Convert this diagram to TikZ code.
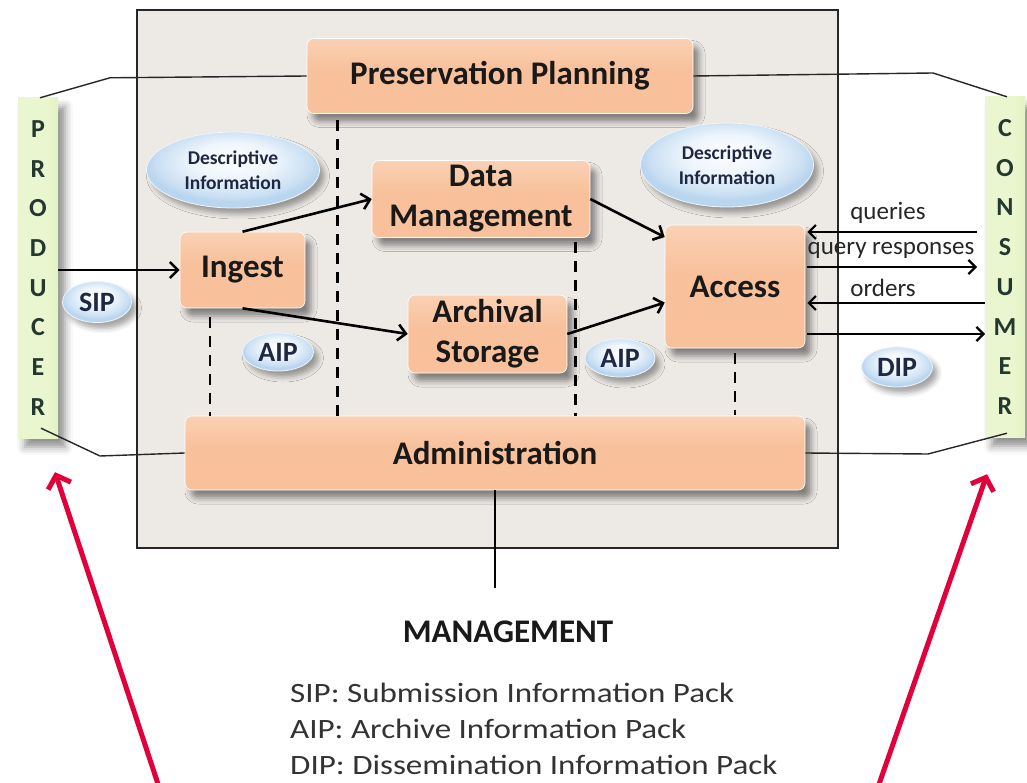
\documentclass[tikz,border=0pt]{standalone}
\usepackage{fontspec}
\setmainfont{Carlito}
\usetikzlibrary{arrows.meta,shadows,shadows.blur,calc,shapes.geometric}

\definecolor{panel}{HTML}{EDEAE6}
\definecolor{peachA}{HTML}{FBD9C0}
\definecolor{peachB}{HTML}{F8C19C}
\definecolor{peachE}{HTML}{FAEBB0}
\definecolor{bluelt}{HTML}{EEF5FC}
\definecolor{bluedk}{HTML}{B9D5EF}
\definecolor{greenA}{HTML}{EAF6CF}
\definecolor{greenB}{HTML}{D6EDAE}
\definecolor{navy}{HTML}{1E2842}
\definecolor{letter}{HTML}{243830}
\definecolor{redarrow}{HTML}{E2003A}

\pgfdeclareverticalshading{boxshade}{100bp}{%
  color(0bp)=(peachE); color(6bp)=(peachE); color(12bp)=(peachB);
  color(55bp)=(peachB); color(85bp)=(peachA); color(94bp)=(white); color(100bp)=(white)}
\pgfdeclareradialshading{ovalshade}{\pgfpoint{0bp}{8bp}}{%
  color(0bp)=(white); color(12bp)=(bluelt); color(22bp)=(bluedk!75); color(25bp)=(bluedk); color(50bp)=(bluedk)}
\pgfdeclarehorizontalshading{barshade}{100bp}{%
  color(0bp)=(bluelt); color(8bp)=(greenA); color(60bp)=(greenA); color(100bp)=(greenB)}

\tikzset{
  func/.style={rectangle, rounded corners=7pt, shading=boxshade, draw=white, line width=0.6pt,
    blur shadow={shadow xshift=6pt, shadow yshift=-8pt, shadow blur radius=6pt, shadow opacity=45},
    font=\bfseries\fontsize{33}{40}\selectfont, text=black!90, align=center, inner sep=2pt},
  oval/.style={ellipse, shading=ovalshade, draw=bluelt, line width=0.8pt,
    blur shadow={shadow xshift=5pt, shadow yshift=-6pt, shadow blur radius=5pt, shadow opacity=35},
    text=navy, font=\bfseries\fontsize{28}{30}\selectfont, align=center, inner sep=0pt},
  bar/.style={rectangle, shading=barshade, minimum width=40pt, minimum height=340pt,
    blur shadow={shadow xshift=7pt, shadow yshift=-9pt, shadow blur radius=8pt, shadow opacity=45},
    text=letter, font=\bfseries\fontsize{26}{39.7}\selectfont, align=center},
  arr/.style={line width=2.6pt, -{Straight Barb[length=8pt, width=16pt, line width=2.6pt]}},
  carr/.style={line width=2.2pt, -{Straight Barb[length=7pt, width=14pt, line width=2.2pt]}},
  link/.style={line width=1.4pt, black!85},
  dashline/.style={line width=2.6pt, dash pattern=on 11pt off 8pt},
  redarr/.style={line width=5pt, redarrow, -{Straight Barb[length=11pt, width=24pt, line width=5pt]}},
  flowlabel/.style={font=\fontsize{25}{27}\selectfont, text=black!85, inner sep=0pt},
}

\begin{document}
\begin{tikzpicture}[x=1pt, y=-1pt]
\useasboundingbox (0,0) rectangle (1027,783);

% the archive system panel
\node[draw=black!85, line width=2.6pt, fill=panel, minimum width=701pt, minimum height=538pt,
  inner sep=0pt] (panel) at (487.5,279) {};

% environment bars
\node[bar] (prod) at (38,268) {P\\R\\O\\D\\U\\C\\E\\R};
\node[bar] (cons) at (1005,267) {C\\O\\N\\S\\U\\M\\E\\R};

% functional entities
\node[func, minimum width=386pt, minimum height=75pt] (pp) at (500,76) {Preservation Planning};
\node[func, minimum width=125pt, minimum height=76pt] (ingest) at (242.5,270) {Ingest};
\node[func, minimum width=218pt, minimum height=77pt] (dm) at (481,199) {Data\\Management};
\node[func, minimum width=159pt, minimum height=78pt] (as) at (487.5,334) {Archival\\Storage};
\node[func, minimum width=140pt, minimum height=123pt] (acc) at (735,286.5) {Access};
\node[func, minimum width=620pt, minimum height=74pt] (adm) at (495,453) {Administration};

% information packages
\node[oval, minimum width=173pt, minimum height=76pt, font=\bfseries\fontsize{19.5}{25}\selectfont] (di1) at (233,170) {Descriptive\\Information};
\node[oval, minimum width=173pt, minimum height=84pt, font=\bfseries\fontsize{19.5}{25}\selectfont] (di2) at (727,165) {Descriptive\\Information};
\node[oval, minimum width=69pt, minimum height=41pt] (sip) at (97,302) {SIP};
\node[oval, minimum width=71pt, minimum height=38pt] (aip1) at (278,352) {AIP};
\node[oval, minimum width=70pt, minimum height=38pt] (aip2) at (620,358) {AIP};
\node[oval, minimum width=71pt, minimum height=40pt] (dip) at (897,367) {DIP};

% links from the environment to planning and administration
\draw[link] ([xshift=2pt]prod.north) -- ++(70,-20) -- (pp.west);
\draw[link] (pp.east) -- (933,73) -- ([xshift=2pt]cons.north);
\draw[link] ([xshift=3pt,yshift=10pt]prod.south) -- (100,456) -- (adm.west);
\draw[link] (adm.east) -- (928,454) -- ([xshift=2pt,yshift=4pt]cons.south);

% dashed separators
\draw[dashline] ([xshift=-32.5pt,yshift=-9pt]ingest.south) -- ([xshift=-32.5pt]ingest.south |- adm.north);
\draw[dashline] ([xshift=31pt,yshift=-6pt]pp.south west) -- ([xshift=31pt]pp.south west |- adm.north);
\draw[dashline] ([xshift=-15pt,yshift=-4pt]dm.south east) -- ([xshift=-15pt]dm.south east |- adm.north);
\draw[dashline] ([yshift=-5pt]acc.south) -- ([yshift=1pt]acc.south |- adm.north);

% data flows
\draw[arr] (prod.east |- ingest.west) -- (ingest.west);
\draw[arr] (ingest.north) -- (dm.west);
\draw[arr] (ingest.south) -- (as.west);
\draw[arr] (dm.east) -- ($(acc.north west)!0.1!(acc.south west)$);
\draw[arr] (as.east) -- ($(acc.north west)!0.63!(acc.south west)$);

% consumer interface
\coordinate (qC) at (977,232);
\coordinate (rC) at (977,267);
\coordinate (oC) at (985,303);
\coordinate (dC) at (985,334);
\draw[carr] (qC) -- ([xshift=2pt]acc.east |- qC);
\draw[carr] ([xshift=2pt]acc.east |- rC) -- (rC);
\draw[carr] (oC) -- ([xshift=2pt]acc.east |- oC);
\draw[carr] ([xshift=2pt]acc.east |- dC) -- (dC);
\node[flowlabel] (lq) at (888,213) {queries};
\node[flowlabel] (lr) at (891,250) {query responses};
\node[flowlabel] (lo) at (883,288) {orders};

% management
\node[font=\bfseries\fontsize{33}{36}\selectfont, text=black!90] (mgmt) at (508,632) {MANAGEMENT};
\draw[line width=2pt] (adm.south) -- (495,588);

% legend
\node[anchor=north west, text=black!80, inner sep=0pt] (legend) at (290,677)
  {\scalebox{1.18}[1]{\fontsize{28}{36}\selectfont\begin{tabular}{@{}l@{}}
   SIP: Submission Information Pack\\AIP: Archive Information Pack\\DIP: Dissemination Information Pack
   \end{tabular}}};

% pointers to the external entities
\coordinate (lbase) at (160,790);
\coordinate (rbase) at (877,790);
\draw[redarr] (lbase) -- ([xshift=17pt,yshift=-34pt]prod.south);
\draw[redarr] (rbase) -- ([xshift=-18pt,yshift=-37pt]cons.south);
\end{tikzpicture}
\end{document}
